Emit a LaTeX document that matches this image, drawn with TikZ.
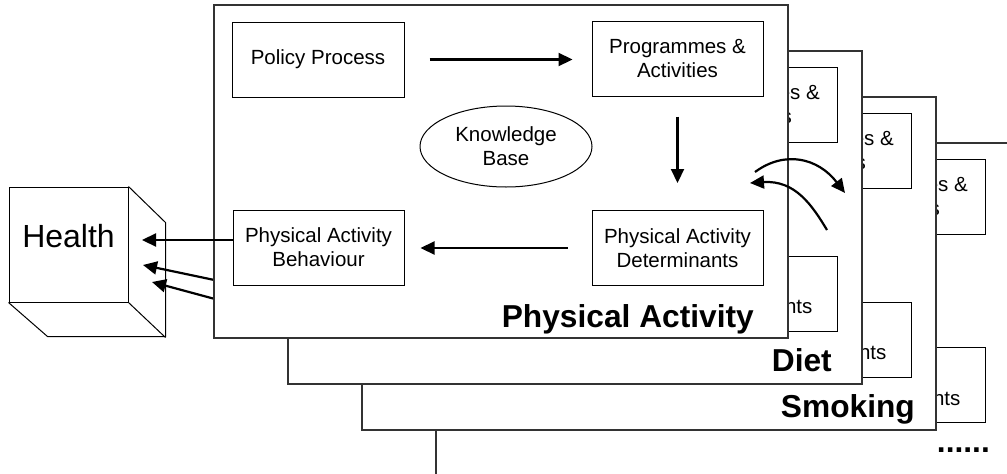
\documentclass[tikz,border=0pt]{standalone}
\usepackage{fontspec}
\setmainfont{Liberation Sans}
\usetikzlibrary{arrows.meta}
\usetikzlibrary{shapes}

\newcommand{\boxfont}{\fontsize{20.5}{24}\selectfont}

\begin{document}
\begin{tikzpicture}[x=1pt, y=-1pt,
    box/.style={draw, fill=white, line width=1pt, minimum width=171pt, minimum height=75pt, inner sep=0pt, align=center, font=\boxfont},
    panel/.style={draw=black!80, fill=white, line width=1.3pt, minimum width=574pt, minimum height=333pt, inner sep=0pt},
    paneltitle/.style={anchor=base east, inner sep=0pt, font=\fontsize{31.7}{36}\selectfont\bfseries},
    flow/.style={-{Triangle[length=14pt, width=13pt]}, line width=2.2pt}]

    \useasboundingbox (0, 0) rectangle (1007, 474);
    \clip (0, 0) rectangle (1007, 474);

    % Declare the health cube
    \node[draw, line width=1pt, minimum width=119pt, minimum height=115pt, inner sep=0pt, text depth=18pt, font=\fontsize{32}{36}\selectfont] at (68.5, 244.5) (hl) {Health};
    \draw[line width=1pt] (hl.north east) -- ++(37, 36) -- ++(0, 114) -- ++(-118, 0) -- (hl.south west);
    \draw[line width=1pt] (hl.south east) -- ++(37, 35);

    % Declare the panels behind
    \node[panel] at (723, 309.5) (p4) {};
    \node[box] at (899.5, 196.5) (pa4) {Programmes \&\\Activities};
    \node[box] at (899.5, 385) (pd4) {\strut\\Determinants};
    \node[paneltitle] at (990, 452) (t4) {......};

    \node[panel] at (649, 263.5) (p3) {};
    \node[box] at (825.5, 150.5) (pa3) {Programmes \&\\Activities};
    \node[box] at (825.5, 339.5) (pd3) {\strut\\Determinants};
    \node[paneltitle] at (915, 417) (t3) {Smoking};

    \node[panel] at (575, 217.5) (p2) {};
    \node[box] at (751.5, 104.5) (pa2) {Programmes \&\\Activities};
    \node[box] at (751.5, 293.5) (pd2) {\strut\\Determinants};
    \node[paneltitle] at (832, 371) (t2) {Diet};

    % Declare edges from the panels behind
    \coordinate (d2) at (300, 298);
    \coordinate (d3) at (300, 322);
    \coordinate (h2) at (143, 265);
    \coordinate (h3) at (152, 282);
    \draw[flow] (d2) -- (h2);
    \draw[flow] (d3) -- (h3);

    % Declare the physical activity panel
    \node[panel] at (501, 171.5) (p1) {};
    \node[box, minimum width=172pt] at (318, 59.5) (pp) {Policy Process};
    \node[box] at (677.5, 58.5) (pa) {Programmes \&\\Activities};
    \node[draw, ellipse, line width=1pt, minimum width=172pt, minimum height=81pt, inner sep=0pt, align=center, font=\boxfont] at (506, 146.5) (kb) {Knowledge\\Base};
    \node[box] at (318.5, 247.5) (pb) {Physical Activity\\Behaviour};
    \node[box] at (677.5, 248) (pd) {Physical Activity\\Determinants};
    \node[paneltitle] at (754, 327) (t1) {Physical Activity};

    % Declare edges
    \coordinate (h1) at (142, 240);
    \draw[flow, shorten <=25pt, shorten >=19pt] (pp.east) -- (pp.east -| pa.west);
    \draw[flow, shorten <=20pt, shorten >=27pt] (pa.south) -- (pd.north);
    \draw[flow, shorten <=24pt, shorten >=16pt] (pd.west) -- (pd.west -| pb.east);
    \draw[flow] (pb.west |- h1) -- (h1);

    % Declare edges between the panels
    \coordinate (c1) at (755, 172);
    \coordinate (c2) at (845, 193);
    \coordinate (c3) at (827, 230);
    \coordinate (c4) at (750, 183);
    \draw[flow] (c1) .. controls (785, 150) and (818, 158) .. (c2);
    \draw[flow] (c3) .. controls (812, 205) and (795, 180) .. (c4);

\end{tikzpicture}
\end{document}
